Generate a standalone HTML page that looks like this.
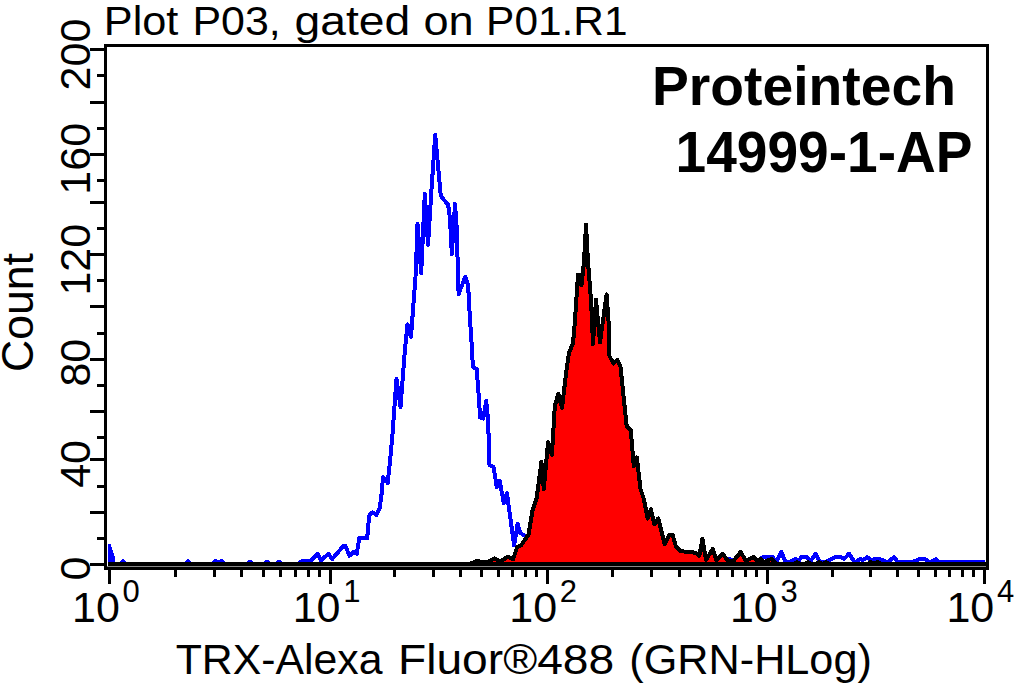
<!DOCTYPE html>
<html><head><meta charset="utf-8"><style>
html,body{margin:0;padding:0;background:#fff;}
body{width:1016px;height:683px;overflow:hidden;position:relative;}
svg{position:absolute;left:0;top:0;}
text{font-family:"Liberation Sans",sans-serif;fill:#000;}
.n{font-size:43px;}
.s{font-size:31px;}
</style></head><body>
<svg width="1016" height="683" viewBox="0 0 1016 683">
<rect width="1016" height="683" fill="#fff"/>
<polygon points="108,565 108,544 110.5,544 114.5,556 115,565" fill="#0000ff" shape-rendering="crispEdges"/>
<polyline points="114.0,564.0 120.0,564.0 123.0,561.0 126.0,564.0 185.0,564.0 188.0,561.0 191.0,564.0 212.0,564.0 215.0,561.0 218.5,562.0 222.0,561.0 225.0,564.0 247.0,564.0 250.0,561.5 253.0,564.0 264.0,564.0 267.0,561.5 270.0,564.0 276.0,564.0 279.0,561.5 282.0,564.0 298.0,564.0 302.6,560.6 311.2,560.6 317.8,553.8 321.1,560.4 328.3,553.8 332.3,559.0 343.5,545.9 345.5,545.9 349.4,555.8 353.4,551.8 356.7,553.8 359.3,538.0 367.2,538.0 369.2,515.6 372.5,512.3 376.4,514.9 379.7,507.7 381.7,493.2 383.0,477.0 387.7,483.0 390.1,460.5 392.5,434.7 394.2,410.6 396.5,379.0 400.5,407.0 403.0,375.0 404.8,351.4 407.5,324.5 411.0,337.0 413.3,306.0 415.5,277.0 417.0,240.0 417.5,224.0 421.2,273.0 424.8,193.5 428.0,245.0 431.0,197.0 435.2,134.5 440.7,195.0 442.4,198.0 448.2,205.0 450.0,219.0 451.8,254.0 455.0,204.0 456.7,228.0 458.6,294.0 465.2,277.0 468.1,285.0 470.0,320.0 471.0,333.0 472.9,367.0 476.7,369.0 478.6,394.0 480.1,417.5 483.3,418.5 486.2,400.5 488.1,420.5 489.5,465.0 493.6,467.0 496.7,487.0 499.7,481.0 503.8,503.0 506.9,493.0 514.1,545.5 517.6,524.0 520.3,533.0 525.4,536.0 535.0,545.0 560.0,555.0 640.0,560.0 700.0,560.0 728.0,558.5 735.0,561.0 746.0,562.0 750.7,559.0 756.0,562.0 763.0,557.0 772.5,557.0 776.0,562.0 781.4,552.0 785.5,562.0 790.0,562.0 795.3,559.0 798.5,562.0 801.0,557.0 807.0,557.0 810.0,562.0 815.7,553.8 820.0,562.0 826.0,562.0 831.3,559.0 836.0,557.0 840.2,557.0 844.0,559.0 849.0,553.8 854.8,562.3 860.3,559.2 863.0,560.0 867.2,557.2 871.0,560.0 874.1,559.2 880.3,559.2 887.2,562.3 894.1,557.2 898.2,562.3 912.0,562.3 918.9,559.3 925.3,559.3 929.8,562.3 935.7,559.3 939.4,562.3 985.0,562.3" fill="none" stroke="#0000ff" stroke-width="4" stroke-linejoin="round" shape-rendering="crispEdges"/>
<polygon points="108.0,563.5 470.0,563.5 477.2,561.0 486.4,562.5 494.6,558.5 500.8,561.3 508.0,556.5 513.1,559.2 517.2,547.0 521.3,545.0 528.5,534.6 532.6,510.0 536.7,497.7 541.4,462.0 543.8,489.0 548.1,442.0 551.9,455.0 554.8,406.2 558.2,393.5 562.0,408.0 566.2,371.9 569.0,352.9 572.9,343.3 574.2,331.0 577.0,290.0 578.0,274.5 580.5,274.5 581.5,285.5 584.0,262.0 586.0,224.7 588.0,262.0 591.0,300.0 593.0,344.0 596.0,299.6 600.0,342.4 606.6,294.3 609.1,329.0 609.2,355.4 613.3,363.5 617.4,360.0 620.5,366.7 622.6,387.2 625.6,415.9 626.7,426.2 630.8,430.3 633.8,466.0 636.9,457.5 640.5,489.0 643.7,498.6 647.7,518.5 650.9,509.0 654.2,524.4 658.2,518.5 664.6,544.0 669.5,535.0 672.7,535.0 675.9,546.2 680.7,551.0 685.6,551.8 691.2,552.0 696.0,553.0 699.2,556.0 702.4,539.0 706.0,560.0 712.7,549.0 716.4,560.0 722.8,554.0 727.8,560.5 733.0,561.5 740.6,552.0 746.0,561.0 753.9,557.0 758.0,561.5 760.7,559.0 764.0,562.0 771.3,559.0 776.0,563.7 794.0,563.7 797.0,562.0 800.0,563.7 805.0,563.7 808.0,562.0 811.0,563.7 816.0,563.7 819.0,562.0 822.0,563.7 824.0,563.7 826.0,562.0 829.0,563.7 868.0,563.7 870.7,562.0 874.0,563.7 877.6,562.0 881.0,563.7 985.0,563.7" fill="#ff0000" stroke="none" shape-rendering="crispEdges"/>
<polyline points="108.0,563.5 470.0,563.5 477.2,561.0 486.4,562.5 494.6,558.5 500.8,561.3 508.0,556.5 513.1,559.2 517.2,547.0 521.3,545.0 528.5,534.6 532.6,510.0 536.7,497.7 541.4,462.0 543.8,489.0 548.1,442.0 551.9,455.0 554.8,406.2 558.2,393.5 562.0,408.0 566.2,371.9 569.0,352.9 572.9,343.3 574.2,331.0 577.0,290.0 578.0,274.5 580.5,274.5 581.5,285.5 584.0,262.0 586.0,224.7 588.0,262.0 591.0,300.0 593.0,344.0 596.0,299.6 600.0,342.4 606.6,294.3 609.1,329.0 609.2,355.4 613.3,363.5 617.4,360.0 620.5,366.7 622.6,387.2 625.6,415.9 626.7,426.2 630.8,430.3 633.8,466.0 636.9,457.5 640.5,489.0 643.7,498.6 647.7,518.5 650.9,509.0 654.2,524.4 658.2,518.5 664.6,544.0 669.5,535.0 672.7,535.0 675.9,546.2 680.7,551.0 685.6,551.8 691.2,552.0 696.0,553.0 699.2,556.0 702.4,539.0 706.0,560.0 712.7,549.0 716.4,560.0 722.8,554.0 727.8,560.5 733.0,561.5 740.6,552.0 746.0,561.0 753.9,557.0 758.0,561.5 760.7,559.0 764.0,562.0 771.3,559.0 776.0,563.7 794.0,563.7 797.0,562.0 800.0,563.7 805.0,563.7 808.0,562.0 811.0,563.7 816.0,563.7 819.0,562.0 822.0,563.7 824.0,563.7 826.0,562.0 829.0,563.7 868.0,563.7 870.7,562.0 874.0,563.7 877.6,562.0 881.0,563.7 985.0,563.7" fill="none" stroke="#000" stroke-width="4" stroke-linejoin="round" shape-rendering="crispEdges"/>
<g shape-rendering="crispEdges">
<rect x="104" y="44" width="885" height="3"/>
<rect x="104" y="44" width="3" height="526"/>
<rect x="986" y="44" width="3" height="526"/>
<rect x="108" y="562" width="878" height="4"/>
<rect x="107" y="566" width="879" height="1" fill="#888"/>
<rect x="104" y="567" width="885" height="3"/>
<rect x="90" y="48" width="15" height="3"/><rect x="90" y="101" width="15" height="3"/><rect x="90" y="153" width="15" height="3"/><rect x="90" y="201" width="15" height="3"/><rect x="90" y="253" width="15" height="3"/><rect x="90" y="305" width="15" height="3"/><rect x="90" y="358" width="15" height="3"/><rect x="90" y="410" width="15" height="3"/><rect x="90" y="458" width="15" height="3"/><rect x="90" y="511" width="15" height="3"/><rect x="90" y="563" width="15" height="3"/><rect x="97" y="74" width="8" height="3"/><rect x="97" y="127" width="8" height="3"/><rect x="97" y="179" width="8" height="3"/><rect x="97" y="227" width="8" height="3"/><rect x="97" y="279" width="8" height="3"/><rect x="97" y="332" width="8" height="3"/><rect x="97" y="384" width="8" height="3"/><rect x="97" y="436" width="8" height="3"/><rect x="97" y="485" width="8" height="3"/><rect x="97" y="537" width="8" height="3"/><rect x="108" y="568" width="3" height="16"/><rect x="329" y="568" width="3" height="16"/><rect x="546" y="568" width="3" height="16"/><rect x="766" y="568" width="3" height="16"/><rect x="983" y="568" width="3" height="16"/><rect x="174" y="568" width="3" height="9"/><rect x="213" y="568" width="3" height="9"/><rect x="240" y="568" width="3" height="9"/><rect x="262" y="568" width="3" height="9"/><rect x="279" y="568" width="3" height="9"/><rect x="294" y="568" width="3" height="9"/><rect x="307" y="568" width="3" height="9"/><rect x="318" y="568" width="3" height="9"/><rect x="393" y="568" width="3" height="9"/><rect x="432" y="568" width="3" height="9"/><rect x="459" y="568" width="3" height="9"/><rect x="480" y="568" width="3" height="9"/><rect x="497" y="568" width="3" height="9"/><rect x="511" y="568" width="3" height="9"/><rect x="524" y="568" width="3" height="9"/><rect x="535" y="568" width="3" height="9"/><rect x="611" y="568" width="3" height="9"/><rect x="650" y="568" width="3" height="9"/><rect x="678" y="568" width="3" height="9"/><rect x="699" y="568" width="3" height="9"/><rect x="716" y="568" width="3" height="9"/><rect x="731" y="568" width="3" height="9"/><rect x="744" y="568" width="3" height="9"/><rect x="755" y="568" width="3" height="9"/><rect x="831" y="568" width="3" height="9"/><rect x="869" y="568" width="3" height="9"/><rect x="896" y="568" width="3" height="9"/><rect x="917" y="568" width="3" height="9"/><rect x="934" y="568" width="3" height="9"/><rect x="948" y="568" width="3" height="9"/><rect x="961" y="568" width="3" height="9"/><rect x="972" y="568" width="3" height="9"/>
</g>
<text x="103.77" y="35" font-size="41.5" textLength="74.57" lengthAdjust="spacingAndGlyphs">Plot</text><text x="192.4" y="35" font-size="41.5" textLength="88.29" lengthAdjust="spacingAndGlyphs">P03,</text><text x="294.47" y="35" font-size="41.5" textLength="115.71" lengthAdjust="spacingAndGlyphs">gated</text><text x="423.52" y="35" font-size="41.5" textLength="50.23" lengthAdjust="spacingAndGlyphs">on</text><text x="486.14" y="35" font-size="41.5" textLength="141.34" lengthAdjust="spacingAndGlyphs">P01.R1</text>
<text x="652" y="105" font-size="56" font-weight="bold" textLength="304" lengthAdjust="spacingAndGlyphs">Proteintech</text>
<text x="675.5" y="172" font-size="58" font-weight="bold" textLength="297" lengthAdjust="spacingAndGlyphs">14999-1-AP</text>
<text x="175.7" y="673.5" font-size="43" textLength="206.89" lengthAdjust="spacingAndGlyphs">TRX-Alexa</text><text x="398.01" y="673.5" font-size="43" textLength="216.2" lengthAdjust="spacingAndGlyphs">Fluor®488</text><text x="629.39" y="673.5" font-size="43" textLength="242.44" lengthAdjust="spacingAndGlyphs">(GRN-HLog)</text>
<text transform="translate(33,372) rotate(-90)" font-size="45" textLength="119" lengthAdjust="spacingAndGlyphs">Count</text>
<text class="n" transform="translate(90.2,54.5) rotate(-90)" text-anchor="middle">200</text><text class="n" transform="translate(90.2,158.8) rotate(-90)" text-anchor="middle">160</text><text class="n" transform="translate(90.2,259.7) rotate(-90)" text-anchor="middle">120</text><text class="n" transform="translate(90.2,362.7) rotate(-90)" text-anchor="middle">80</text><text class="n" transform="translate(90.2,463.9) rotate(-90)" text-anchor="middle">40</text><text class="n" transform="translate(90.2,568.6) rotate(-90)" text-anchor="middle">0</text>
<text class="n" x="72.1" y="622">10</text><text class="s" x="122.6" y="601.5">0</text><text class="n" x="292.7" y="622">10</text><text class="s" x="343.2" y="601.5">1</text><text class="n" x="509.3" y="622">10</text><text class="s" x="559.8" y="601.5">2</text><text class="n" x="729.9" y="622">10</text><text class="s" x="780.4" y="601.5">3</text><text class="n" x="946.4" y="622">10</text><text class="s" x="996.9" y="601.5">4</text>
</svg>
</body></html>
